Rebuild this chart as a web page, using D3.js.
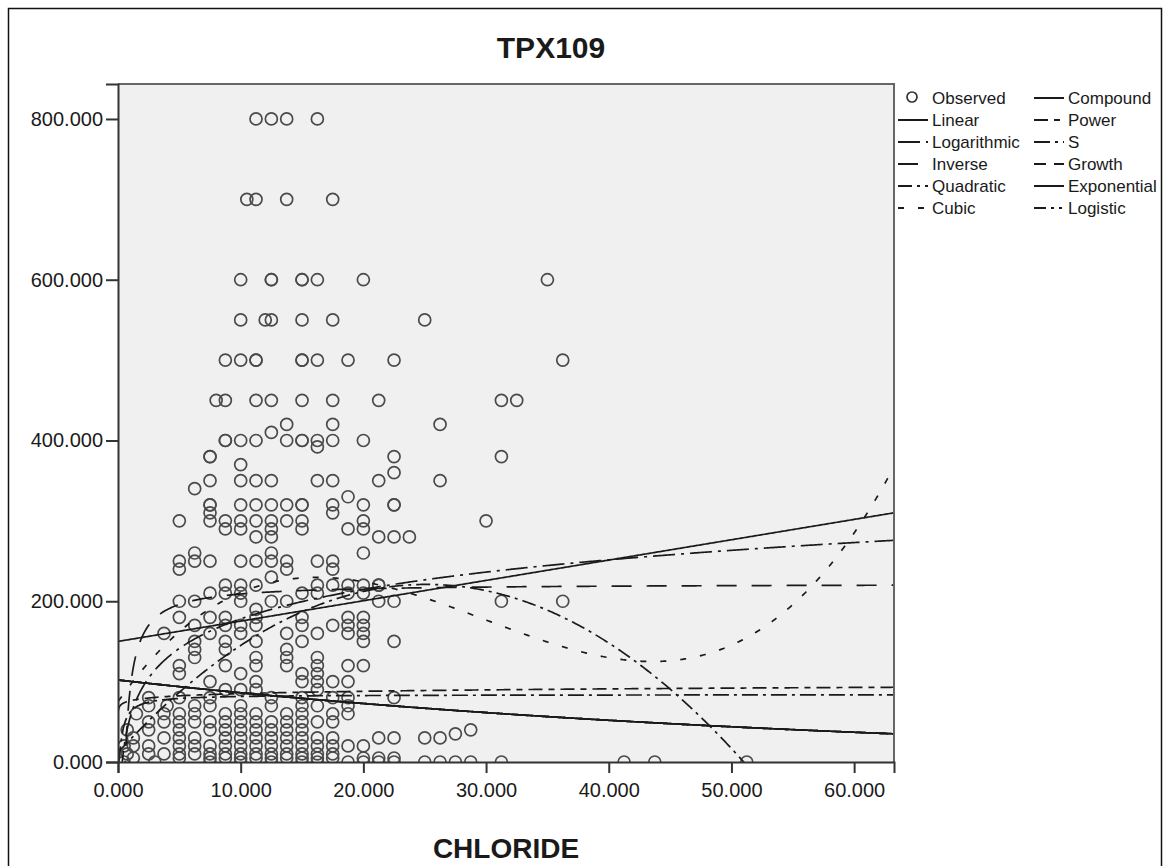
<!DOCTYPE html>
<html>
<head>
<meta charset="utf-8">
<script src="https://cdn.jsdelivr.net/npm/d3@7/dist/d3.min.js"></script>
<style>
  html, body { margin: 0; padding: 0; background: #fff; }
  svg { display: block; }
  text { font-family: "Liberation Sans", Arial, sans-serif; fill: #1a1a1a; }
</style>
</head>
<body>
<svg id="chart" width="1169" height="866"></svg>
<script>
// ---------------- data ----------------
const chartTitle = "TPX109";
const xTitle = "CHLORIDE";
const xTicks = [0, 10, 20, 30, 40, 50, 60];
const yTicks = [0, 200, 400, 600, 800];

// observed TPX109 values (levels) and the CHLORIDE values observed at each level
const tpxLevels = [800,700,600,550,500,450,420,410,400,392,380,370,360,350,340,330,320,310,300,290,280,260,250,240,230,220,210,200,190,180,170,160,150,140,130,120,110,100,90,80,70,60,50,40,35,30,20,10,5,0];
const chlorideAtLevel = [
  [11.25,12.5,13.75,16.25],
  [10.5,11.25,13.75,17.5],
  [10,12.5,12.5,15,15,16.25,20,35],
  [10,12,12.5,15,17.5,25],
  [8.75,10,11.25,11.25,15,15,16.25,18.75,22.5,36.25],
  [8,8.75,11.25,12.5,15,17.5,21.25,31.25,32.5],
  [13.75,17.5,26.25],
  [12.5],
  [8.75,8.75,10,11.25,13.75,15,15,16.25,17.5,20],
  [16.25],
  [7.5,7.5,22.5,31.25],
  [10],
  [22.5],
  [7.5,10,11.25,12.5,16.25,17.5,21.25,26.25],
  [6.25],
  [18.75],
  [7.5,7.5,10,11.25,12.5,13.75,15,15,17.5,20,22.5,22.5],
  [7.5,17.5],
  [5,7.5,8.75,10,11.25,12.5,13.75,15,20,30],
  [8.75,10,12.5,15,18.75,20],
  [11.25,12.5,21.25,22.5,23.75],
  [6.25,12.5,20],
  [5,6.25,7.5,10,11.25,12.5,13.75,16.25,17.5],
  [5,13.75,17.5],
  [12.5],
  [8.75,10,11.25,16.25,17.5,18.75,20,21.25,21.25],
  [7.5,8.75,10,15,16.25,18.75,20],
  [5,6.25,10,12.5,13.75,21.25,22.5,31.25,36.25],
  [11.25],
  [5,7.5,8.75,11.25,15,18.75,20],
  [6.25,8.75,10,11.25,15,17.5,18.75,20],
  [3.75,7.5,10,13.75,16.25,18.75,20],
  [6.25,8.75,11.25,15,20,22.5],
  [6.25,8.75,13.75],
  [6.25,11.25,13.75,16.25],
  [5,8.75,11.25,13.75,16.25,18.75,20],
  [5,10,15,16.25],
  [7.5,11.25,15,16.25,17.5,18.75],
  [8.75,10,11.25,16.25],
  [2.5,5,7.5,12.5,15,17.5,18.75,22.5],
  [2.5,4,6.25,7.5,10,12.5,15,16.25,18.75],
  [1.5,3.75,5,6.25,8.75,10,11.25,13.75,15,17.5,18.75],
  [2.5,3.75,5,6.25,7.5,8.75,10,11.25,12.5,13.75,15,16.25,17.5],
  [0.75,2.5,5,7.5,8.75,10,11.25,12.5,13.75,15,28.75],
  [27.5],
  [1.25,3.75,5,6.25,8.75,10,11.25,12.5,13.75,15,16.25,17.5,21.25,22.5,25,26.25],
  [0.5,1.25,2.5,5,6.25,7.5,8.75,10,11.25,12.5,13.75,15,16.25,17.5,18.75,20],
  [0.75,2.5,3.75,5,6.25,7.5,8.75,10,11.25,12.5,13.75,15,16.25,17.5],
  [1.25,5,7.5,8.75,10,11.25,12.5,13.75,15,16.25,17.5,20,21.25,22.5],
  [0.5,3,7.5,10,12.5,15,16.25,18.75,20,21.25,22.5,25,26.25,27.5,28.75,31.25,41.25,43.75,51.25]
];

// fitted-model coefficients
const linearCoef = [150, 2.53];                       // b0 + b1 x
const logCoef = [56, 53];                             // b0 + b1 ln x
const inverseCoef = [222, -130];                      // b0 + b1 / x
const quadraticCoef = [11.8, 16.63, -0.3306];         // b0 + b1 x + b2 x^2
const cubicCoef = [75, 21.77, -0.9209, 0.010273];     // b0 + b1 x + b2 x^2 + b3 x^3
const compoundCoef = [102, 0.98325];                  // b0 * b1^x
const powerCoef = [76.2, 0.048];                      // b0 * x^b1
const sCoef = [4.43, -0.3];                           // exp(b0 + b1 / x)
const growthCoef = [4.625, -0.01689];                 // exp(b0 + b1 x)
const exponentialCoef = [102, -0.01689];              // b0 * exp(b1 x)
const logisticCoef = [0.0098, 1.01703];               // 1 / (b0 * b1^x)

const legendNames = ["Observed","Linear","Logarithmic","Inverse","Quadratic","Cubic",
                     "Compound","Power","S","Growth","Exponential","Logistic"];

// ---------------- models & styles ----------------
const models = [
  {name: "Linear",      f: x => linearCoef[0] + linearCoef[1]*x,                 dash: null},
  {name: "Logarithmic", f: x => logCoef[0] + logCoef[1]*Math.log(x),             dash: "22,6,3,6"},
  {name: "Inverse",     f: x => inverseCoef[0] + inverseCoef[1]/x,               dash: "20,15"},
  {name: "Quadratic",   f: x => quadraticCoef[0] + quadraticCoef[1]*x + quadraticCoef[2]*x*x, dash: "14,5,3,5"},
  {name: "Cubic",       f: x => cubicCoef[0] + cubicCoef[1]*x + cubicCoef[2]*x*x + cubicCoef[3]*x*x*x, dash: "6,14"},
  {name: "Compound",    f: x => compoundCoef[0]*Math.pow(compoundCoef[1], x),    dash: null},
  {name: "Power",       f: x => powerCoef[0]*Math.pow(x, powerCoef[1]),          dash: "14,6,6,6"},
  {name: "S",           f: x => Math.exp(sCoef[0] + sCoef[1]/x),                 dash: "16,5,3,5"},
  {name: "Growth",      f: x => Math.exp(growthCoef[0] + growthCoef[1]*x),       dash: "12,8"},
  {name: "Exponential", f: x => exponentialCoef[0]*Math.exp(exponentialCoef[1]*x), dash: null},
  {name: "Logistic",    f: x => 1/(logisticCoef[0]*Math.pow(logisticCoef[1], x)), dash: "12,5,3,5,3,5"}
];

// ---------------- layout ----------------
const svg = d3.select("#chart");
const plot = {left: 118, right: 894, top: 84, bottom: 762};
const x = d3.scaleLinear().domain([0, 63.25]).range([plot.left, plot.right]);
const y = d3.scaleLinear().domain([0, 843.5]).range([plot.bottom, plot.top]);

svg.append("rect").attr("width", 1169).attr("height", 866).attr("fill", "#fff");
// outer frame
svg.append("rect").attr("x", 8.5).attr("y", 8.5).attr("width", 1153).attr("height", 900)
  .attr("fill", "none").attr("stroke", "#111").attr("stroke-width", 1.5);

// plot background
svg.append("rect").attr("x", plot.left).attr("y", plot.top)
  .attr("width", plot.right - plot.left).attr("height", plot.bottom - plot.top)
  .attr("fill", "#f0f0f0");

svg.append("clipPath").attr("id", "clip").append("rect")
  .attr("x", plot.left).attr("y", plot.top)
  .attr("width", plot.right - plot.left).attr("height", plot.bottom - plot.top);

const g = svg.append("g").attr("clip-path", "url(#clip)");

// observed points
const points = [];
tpxLevels.forEach((lv, i) => chlorideAtLevel[i].forEach(c => points.push({c, v: lv})));
g.selectAll("circle.obs").data(points).enter().append("circle")
  .attr("class", "obs")
  .attr("cx", d => x(d.c)).attr("cy", d => y(d.v)).attr("r", 6)
  .attr("fill", "none").attr("stroke", "#4a4a4a").attr("stroke-width", 1.7);

// fitted curves
const xs = d3.range(0.02, 0.5, 0.005).concat(d3.range(0.5, 63.6, 0.1));
const line = d3.line().x(d => x(d[0])).y(d => y(d[1]));
models.forEach(m => {
  const pts = xs.map(v => [v, m.f(v)]).filter(p => isFinite(p[1]) && p[1] > -200 && p[1] < 1100);
  g.append("path").datum(pts).attr("d", line)
    .attr("fill", "none").attr("stroke", "#1a1a1a").attr("stroke-width", 1.7)
    .attr("stroke-dasharray", m.dash);
});

// plot frame (top/right)
svg.append("path")
  .attr("d", `M${plot.left},${plot.top}H${plot.right}V${plot.bottom}`)
  .attr("fill", "none").attr("stroke", "#666").attr("stroke-width", 2);

// axes
const xAxis = d3.axisBottom(x).tickValues(xTicks).tickFormat(d3.format(".3f")).tickSize(11).tickPadding(10);
const yAxis = d3.axisLeft(y).tickValues(yTicks).tickFormat(d3.format(".3f")).tickSize(12).tickPadding(3);
const gx = svg.append("g").attr("transform", `translate(0,${plot.bottom})`).call(xAxis);
const gy = svg.append("g").attr("transform", `translate(${plot.left},0)`).call(yAxis);
[gx, gy].forEach(a => {
  a.select(".domain").attr("stroke", "#333").attr("stroke-width", 2);
  a.selectAll(".tick line").attr("stroke", "#333").attr("stroke-width", 2);
  a.selectAll(".tick text").attr("font-size", 20).attr("fill", "#222")
    .attr("font-family", "\"Liberation Sans\", Arial, sans-serif");
});

// titles
svg.append("text").attr("x", 551).attr("y", 58).attr("text-anchor", "middle")
  .attr("font-size", 30).attr("font-weight", "bold").text(chartTitle);
svg.append("text").attr("x", 506).attr("y", 858).attr("text-anchor", "middle")
  .attr("font-size", 28).attr("font-weight", "bold").text(xTitle);

// legend
const lg = svg.append("g");
legendNames.forEach((name, i) => {
  const col = i < 6 ? 0 : 1;
  const row = i % 6;
  const lx = col === 0 ? 898 : 1034;
  const ly = 98 + row * 22;
  if (name === "Observed") {
    lg.append("circle").attr("cx", lx + 14).attr("cy", ly - 1).attr("r", 5)
      .attr("fill", "none").attr("stroke", "#333").attr("stroke-width", 1.7);
  } else {
    const m = models.find(mm => mm.name === name);
    lg.append("line").attr("x1", lx).attr("x2", lx + 30).attr("y1", ly).attr("y2", ly)
      .attr("stroke", "#1a1a1a").attr("stroke-width", 2).attr("stroke-dasharray", m.dash);
  }
  lg.append("text").attr("x", lx + 34).attr("y", ly + 6).attr("font-size", 17)
    .attr("fill", "#222").text(name);
});
</script>
</body>
</html>
